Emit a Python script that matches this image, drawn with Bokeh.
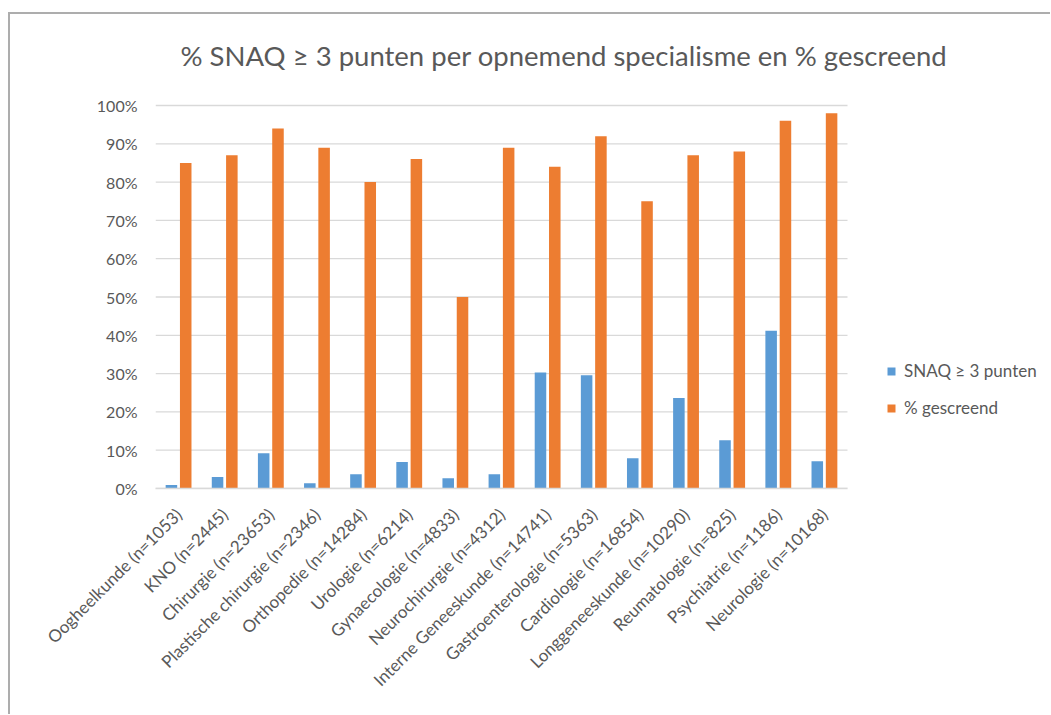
from math import pi
from bokeh.plotting import figure
from bokeh.models import (Range1d, FixedTicker, PrintfTickFormatter, Legend,
                          LegendItem, Label, ColumnDataSource)
from bokeh.embed import file_html
from bokeh.resources import INLINE

categories = [
    "Oogheelkunde (n=1053)", "KNO (n=2445)", "Chirurgie (n=23653)",
    "Plastische chirurgie (n=2346)", "Orthopedie (n=14284)", "Urologie (n=6214)",
    "Gynaecologie (n=4833)", "Neurochirurgie (n=4312)", "Interne Geneeskunde (n=14741)",
    "Gastroenterologie (n=5363)", "Cardiologie (n=16854)", "Longgeneeskunde (n=10290)",
    "Reumatologie (n=825)", "Psychiatrie (n=1186)", "Neurologie (n=10168)",
]
snaq = [0.9, 3.0, 9.2, 1.4, 3.7, 6.9, 2.7, 3.7, 30.3, 29.6, 7.9, 23.6, 12.6, 41.2, 7.1]
gescreend = [85, 87, 94, 89, 80, 86, 50, 89, 84, 92, 75, 87, 88, 96, 98]
y_ticks = [0, 10, 20, 30, 40, 50, 60, 70, 80, 90, 100]
series_names = ["SNAQ \u2265 3 punten", "% gescreend"]
title_text = "% SNAQ \u2265 3 punten per opnemend specialisme en % gescreend"

FONT = "Lato"
TXT = "#595959"
BLUE = "#5B9BD5"
ORANGE = "#ED7D31"
GRID = "#D9D9D9"

n = len(categories)
centers = [i + 0.5 for i in range(n)]
BAR_W = 0.25
OFF = 0.155

src = ColumnDataSource(data=dict(
    x_blue=[c - OFF for c in centers], x_orange=[c + OFF for c in centers],
    snaq=snaq, gescreend=gescreend))

# the bars occupy 692 x 383 px; the frame is larger to host title and legend
BARS_PX_W, BARS_PX_H = 692, 383
FRAME_W, FRAME_H = 895, 474
x_end = n * FRAME_W / BARS_PX_W
y_end = 100 * FRAME_H / BARS_PX_H

p = figure(x_range=Range1d(0, x_end), y_range=Range1d(0, y_end),
           frame_width=FRAME_W, frame_height=FRAME_H,
           output_backend="svg", toolbar_location=None,
           min_border_left=145, min_border_right=0, min_border_top=0,
           min_border_bottom=226)
p.styles = {"border-top": "2px solid #ADADAD", "border-left": "2px solid #ADADAD",
            "margin-top": "12px", "margin-left": "8px"}
p.outline_line_color = None
p.background_fill_color = "white"
p.border_fill_color = "white"
p.xgrid.grid_line_color = None
p.ygrid.grid_line_color = None

# horizontal gridlines restricted to the category area
p.segment(x0=[0] * len(y_ticks), x1=[n] * len(y_ticks), y0=y_ticks, y1=y_ticks,
          line_color=GRID, line_width=1.3)

r1 = p.vbar(x="x_blue", top="snaq", width=BAR_W, source=src,
            fill_color=BLUE, line_color=None)
r2 = p.vbar(x="x_orange", top="gescreend", width=BAR_W, source=src,
            fill_color=ORANGE, line_color=None)

title = Label(text=title_text, x=25, y=FRAME_H - 41, x_units="screen", y_units="screen",
              text_font=FONT, text_font_size="27.5px", text_color=TXT,
              text_align="left", text_baseline="middle")
p.add_layout(title)

p.yaxis.ticker = FixedTicker(ticks=y_ticks)
p.yaxis.formatter = PrintfTickFormatter(format="%d%%")
p.yaxis.axis_line_color = None
p.yaxis.major_tick_line_color = None
p.yaxis.minor_tick_line_color = None
p.yaxis.major_tick_out = 0
p.yaxis.major_tick_in = 0
p.yaxis.major_label_standoff = 18
p.yaxis.major_label_text_font = FONT
p.yaxis.major_label_text_font_size = "16px"
p.yaxis.major_label_text_color = TXT

p.xaxis.ticker = FixedTicker(ticks=centers)
p.xaxis.major_label_overrides = {c: lab for c, lab in zip(centers, categories)}
p.xaxis.bounds = (0, n)
p.xaxis.axis_line_color = GRID
p.xaxis.axis_line_width = 1.3
p.xaxis.major_tick_line_color = None
p.xaxis.minor_tick_line_color = None
p.xaxis.major_tick_out = 0
p.xaxis.major_tick_in = 0
p.xaxis.major_label_standoff = 23
p.xaxis.major_label_orientation = pi / 4
p.xaxis.major_label_text_font = FONT
p.xaxis.major_label_text_font_size = "17px"
p.xaxis.major_label_text_color = TXT

legend = Legend(items=[LegendItem(label=series_names[0], renderers=[r1]),
                       LegendItem(label=series_names[1], renderers=[r2])],
                location=(731, 70), orientation="vertical",
                glyph_width=10, glyph_height=10, label_standoff=8,
                spacing=16, padding=0, margin=0,
                border_line_color=None, background_fill_alpha=0,
                label_text_font=FONT, label_text_font_size="17px",
                label_text_color=TXT, label_height=20)
p.add_layout(legend, "center")

open("out.html", "w").write(file_html(p, INLINE))
